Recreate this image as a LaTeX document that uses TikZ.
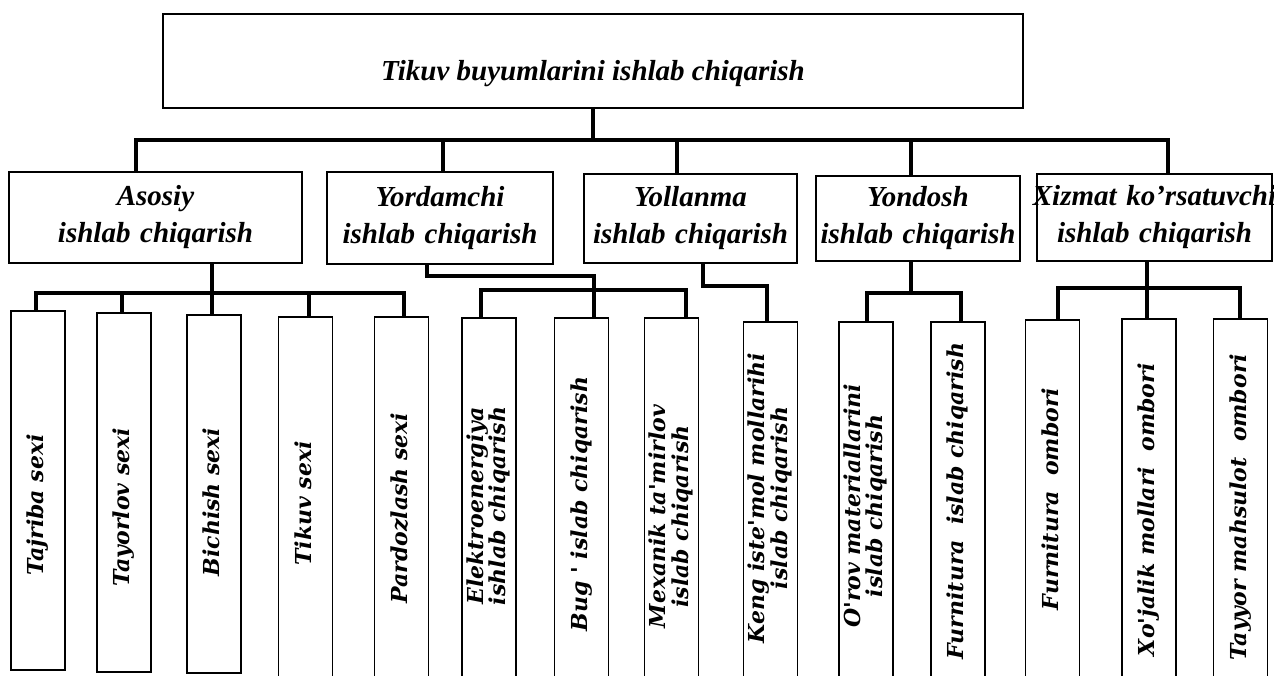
\documentclass[tikz,border=0pt]{standalone}
\usepackage{fontspec}
\setmainfont{Liberation Serif}
\newfontfamily\leaffont{DejaVu Serif}
\usepackage{graphicx}
\newcommand\vdown[2]{\rotatebox{90}{\begin{tabular}{@{}c@{}}#2\end{tabular}\hspace*{#1}}}
\newcommand\vup[2]{\rotatebox{90}{\hspace*{#1}\begin{tabular}{@{}c@{}}#2\end{tabular}}}
\begin{document}
\begin{tikzpicture}[x=0.75pt,y=-0.75pt,
  box/.style={draw=black,line width=1.1pt,inner sep=0pt,fill=white},
  headbox/.style={box,align=center,font=\bfseries\itshape\fontsize{21.75}{27.75}\selectfont},
  leafbox/.style={box,minimum width=40.5pt,font=\leaffont\bfseries\itshape\fontsize{16.5}{14}\selectfont},
  conn/.style={line width=2.3pt}]
\fill[white] (0,0) rectangle (1274,675);
\useasboundingbox (0,0) rectangle (1274,675);

% top
\node[box,minimum width=645pt,minimum height=70.5pt,font=\bfseries\itshape\fontsize{21.75}{27.75}\selectfont] (top) at (593,61) {\rule{0pt}{34pt}Tikuv buyumlarini ishlab chiqarish};

% second row
\node[headbox,text width=219.75pt,minimum height=68.25pt] (A) at (155.5,217.5) {Asosiy\\ishlab chiqarish};
\node[headbox,text width=169.5pt,minimum height=69pt] (Y1) at (440,218) {Yordamchi\\ishlab chiqarish};
\node[headbox,text width=159.75pt,minimum height=66.75pt] (Y2) at (690.5,218.5) {Yollanma\\ishlab chiqarish};
\node[headbox,text width=153pt,minimum height=63.75pt] (Y3) at (918,218.5) {Yondosh\\ishlab chiqarish};
\node[headbox,text width=176.25pt,minimum height=65.25pt] (X) at (1154.5,217.5) {\makebox[\linewidth]{Xizmat ko'rsatuvchi}\\ishlab chiqarish};

% leaves
\node[leafbox,minimum height=269.25pt] (a1) at (38,490.5) {\vdown{22pt}{Tajriba sexi}};
\node[leafbox,minimum height=269.25pt] (a2) at (124,492.5) {\vdown{22pt}{Tayorlov sexi}};
\node[leafbox,minimum height=268.5pt] (a3) at (214,494) {\vdown{12pt}{Bichish sexi}};
\node[leafbox,minimum height=279.75pt] (a4) at (305.5,503.5) {\vdown{0pt}{Tikuv sexi}};
\node[leafbox,minimum height=279.75pt] (a5) at (401.5,503.5) {\vdown{7pt}{Pardozlash sexi}};
\node[leafbox,minimum height=279pt] (b1) at (489,504) {\vdown{3pt}{Elektroenergiya\\ishlab chiqarish}};
\node[leafbox,minimum height=279pt] (b2) at (581.5,504) {\vdown{0pt}{Bug ' islab chiqarish}};
\node[leafbox,minimum height=279pt] (b3) at (671.5,504) {\vdown{19pt}{Mexanik ta'mirlov\\islab chiqarish}};
\node[leafbox,minimum height=276pt] (c1) at (770.5,506) {\vup{12pt}{Keng iste'mol mollarihi\\islab chiqarish}};
\node[leafbox,minimum height=276pt] (d1) at (866,506) {\vdown{0pt}{O'rov materiallarini\\islab chiqarish}};
\node[leafbox,minimum height=276pt] (d2) at (958,506) {\vup{7.5pt}{Furnitura\ \ islab chiqarish}};
\node[leafbox,minimum height=277.5pt] (e1) at (1052.5,505) {\vup{9pt}{Furnitura\ \ ombori}};
\node[leafbox,minimum height=278.25pt] (e2) at (1149,504.5) {\vdown{8pt}{Xo'jalik mollari\ \ ombori}};
\node[leafbox,minimum height=278.25pt] (e3) at (1240.5,504.5) {\vdown{4pt}{Tayyor mahsulot\ \ ombori}};

% connectors: top level
\draw[conn] (top.south) -- (top.south |- 0,140);
\draw[conn] (A.north -| 136,0) -- (136,140) -- (1168,140) -- (X.north -| 1168,0);
\draw[conn] (443,140) -- (Y1.north -| 443,0);
\draw[conn] (677,140) -- (Y2.north -| 677,0);
\draw[conn] (911,140) -- (Y3.north -| 911,0);

% Asosiy
\draw[conn] (A.south -| 212,0) -- (a3.north -| 212,0);
\draw[conn] (a1.north -| 36,0) -- (36,293) -- (404,293) -- (a5.north -| 404,0);
\draw[conn] (122,293) -- (a2.north -| 122,0);
\draw[conn] (309,293) -- (a4.north -| 309,0);

% Yordamchi
\draw[conn] (Y1.south -| 427,0) -- (427,276) -- (594,276) -- (b2.north -| 594,0);
\draw[conn] (b1.north -| 481,0) -- (481,290) -- (686,290) -- (b3.north -| 686,0);

% Yollanma
\draw[conn] (Y2.south -| 703,0) -- (703,286) -- (767,286) -- (c1.north -| 767,0);

% Yondosh
\draw[conn] (Y3.south -| 911,0) -- (911,293);
\draw[conn] (d1.north -| 867,0) -- (867,293) -- (961,293) -- (d2.north -| 961,0);

% Xizmat
\draw[conn] (X.south -| 1147,0) -- (1147,288);
\draw[conn] (e1.north -| 1058,0) -- (1058,288) -- (1240,288) -- (e3.north -| 1240,0);
\draw[conn] (1147,288) -- (e2.north -| 1147,0);
\end{tikzpicture}
\end{document}
